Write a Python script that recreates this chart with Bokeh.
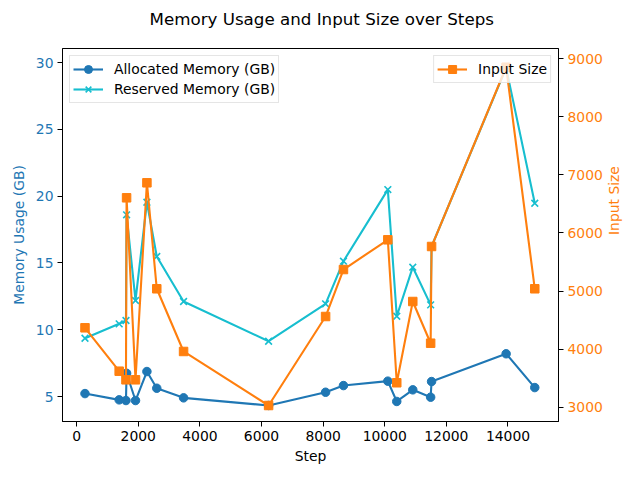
import math
from bokeh.plotting import figure
from bokeh.models import Range1d, LinearAxis, Legend, LegendItem, FixedTicker, Title
from bokeh.embed import file_html
from bokeh.resources import INLINE

steps = [270, 1380, 1600, 1620, 1910, 2280, 2600, 3470, 6230, 8080, 8660,
         10100, 10390, 10910, 11490, 11520, 13940, 14870]
allocated = [5.22, 4.75, 4.70, 6.74, 4.70, 6.87, 5.62, 4.90, 4.33, 5.32, 5.82,
             6.15, 4.63, 5.50, 4.95, 6.12, 8.20, 5.67]
reserved = [9.36, 10.44, 10.69, 18.60, 12.19, 19.54, 15.48, 12.11, 9.14, 11.94, 15.13,
            20.49, 11.01, 14.68, 11.86, 16.23, 29.6, 19.47]
input_size = [4370, 3624, 3476, 6605, 3476, 6863, 5041, 3963, 3034, 4564, 5372,
              5883, 3425, 4822, 4105, 5768, 8850, 5041]

x_ticks = [0, 2000, 4000, 6000, 8000, 10000, 12000, 14000]
mem_ticks = [5, 10, 15, 20, 25, 30]
input_ticks = [3000, 4000, 5000, 6000, 7000, 8000, 9000]

BLUE = "#1f77b4"
CYAN = "#17becf"
ORANGE = "#ff7f0e"
FONT = "DejaVu Sans"

p = figure(width=632, height=472, output_backend="svg", toolbar_location=None,
           x_range=Range1d(-460, 15640), y_range=Range1d(3.13, 31.05),
           min_border_left=62, min_border_right=70, min_border_top=48, min_border_bottom=51)
p.title = None
# spacer between frame and title (pushes the title up)
spacer = Title(text=" ", text_font=FONT, text_font_size="15px", standoff=0)
p.add_layout(spacer, "above")
t = Title(text="Memory Usage and Input Size over Steps", align="left",
          text_font=FONT, text_font_size="16.7px", text_font_style="normal",
          text_color="black", offset=87, standoff=0)
p.add_layout(t, "above")

p.extra_y_ranges = {"input": Range1d(2759, 9172)}

p.xgrid.visible = False
p.ygrid.visible = False
p.outline_line_color = "black"
p.outline_line_width = 1
p.outline_line_alpha = 1
p.background_fill_color = "white"
p.border_fill_color = "white"

def style_axis(ax, color_labels="black"):
    ax.major_tick_out = 5
    ax.major_tick_in = 0
    ax.minor_tick_out = 0
    ax.minor_tick_in = 0
    ax.major_tick_line_color = "black"
    ax.axis_line_color = "black"
    ax.major_label_text_font = FONT
    ax.major_label_text_font_size = "13.9px"
    ax.major_label_text_color = color_labels
    ax.axis_label_text_font = FONT
    ax.axis_label_text_font_size = "13.9px"
    ax.axis_label_text_font_style = "normal"
    ax.axis_label_text_color = "black"
    ax.major_label_standoff = 4
    ax.axis_label_standoff = 6

xa = p.xaxis[0]
xa.ticker = FixedTicker(ticks=x_ticks)
xa.axis_label = "Step"
style_axis(xa)
xa.axis_label_standoff = 4

ya = p.yaxis[0]
ya.ticker = FixedTicker(ticks=mem_ticks)
ya.axis_label = "Memory Usage (GB)"
style_axis(ya, BLUE)
ya.axis_label_text_color = BLUE

ra = LinearAxis(y_range_name="input", axis_label="Input Size")
ra.ticker = FixedTicker(ticks=input_ticks)
style_axis(ra, ORANGE)
ra.axis_label_text_color = ORANGE
ra.axis_label_orientation = math.pi / 2
ra.axis_label_standoff = 8
p.add_layout(ra, "right")

l1 = p.line(steps, allocated, line_color=BLUE, line_width=2.1)
s1 = p.scatter(steps, allocated, marker="circle", size=8.5, fill_color=BLUE, line_color=BLUE)
l2 = p.line(steps, reserved, line_color=CYAN, line_width=2.1)
s2 = p.scatter(steps, reserved, marker="x", size=9.5, line_color=CYAN, line_width=1.6)
l3 = p.line(steps, input_size, line_color=ORANGE, line_width=2.1, y_range_name="input")
s3 = p.scatter(steps, input_size, marker="square", size=8.5, fill_color=ORANGE,
               line_color=ORANGE, y_range_name="input")

def make_legend(items, loc):
    lg = Legend(items=items, location=loc, margin=7, padding=3, spacing=0,
                label_text_font=FONT, label_text_font_size="13.9px", label_text_color="black",
                label_height=20, glyph_height=20, glyph_width=30, label_standoff=11,
                border_line_color="#cccccc", border_line_width=1,
                background_fill_alpha=0.8)
    return lg

leg1 = make_legend([LegendItem(label="Allocated Memory (GB)", renderers=[l1, s1]),
                    LegendItem(label="Reserved Memory (GB)", renderers=[l2, s2])], "top_left")
leg2 = make_legend([LegendItem(label="Input Size", renderers=[l3, s3])], "top_right")
p.add_layout(leg1)
p.add_layout(leg2)

open("out.html", "w").write(file_html(p, INLINE))
